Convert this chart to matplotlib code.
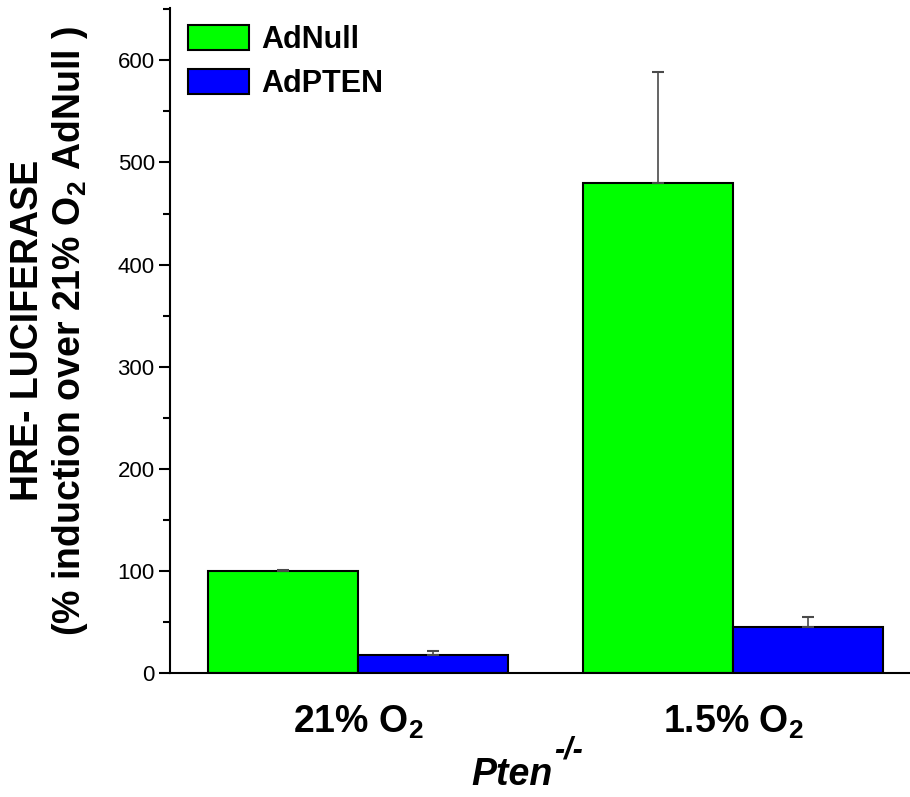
import matplotlib
matplotlib.use("Agg")
import matplotlib.pyplot as plt
import numpy as np

plt.rcParams['font.family'] = ['Liberation Sans', 'DejaVu Sans']
plt.rcParams['mathtext.fontset'] = 'custom'
plt.rcParams['mathtext.rm'] = 'Liberation Sans'
plt.rcParams['mathtext.bf'] = 'Liberation Sans:bold'
plt.rcParams['mathtext.it'] = 'Liberation Sans:italic'

conditions = ["21% O$_\\mathbf{2}$", "1.5% O$_\\mathbf{2}$"]
series = ["AdNull", "AdPTEN"]
adnull = [100, 480]
adnull_err = [0.5, 109]
adpten = [18, 45]
adpten_err = [4, 10]
colors = ["#00ff00", "#0000ff"]

fig = plt.figure(figsize=(9.10, 7.97), dpi=100)
ax = fig.add_axes([0.1868, 0.1556, 0.8132, 0.834])

x = np.arange(len(conditions))
w = 0.4
err_kw = dict(ecolor="#4a4a4a", elinewidth=1.2, capsize=4.5, capthick=1.5)
ax.bar(x - w / 2, adnull, w, color=colors[0], edgecolor="black", linewidth=1.5,
       yerr=[np.zeros(2), adnull_err], error_kw=err_kw, label=series[0], zorder=2)
ax.bar(x + w / 2, adpten, w, color=colors[1], edgecolor="black", linewidth=1.5,
       yerr=[np.zeros(2), adpten_err], error_kw=err_kw, label=series[1], zorder=2)

ax.set_ylim(0, 651)
ax.set_xlim(-0.501, 1.472)
ax.set_yticks(np.arange(0, 700, 100))
ax.set_yticks(np.arange(50, 651, 100), minor=True)
ax.tick_params(axis='y', which='major', direction='out', length=8, width=1.5, labelsize=16, pad=3)
ax.tick_params(axis='y', which='minor', direction='out', length=5, width=1.5)
ax.set_xticks(x)
ax.set_xticklabels(conditions, fontsize=27, fontweight='bold')
ax.tick_params(axis='x', length=0, pad=22)

for s in ['top', 'right']:
    ax.spines[s].set_visible(False)
ax.spines['left'].set_linewidth(1.5)
ax.spines['bottom'].set_linewidth(1.5)

ax.set_ylabel("HRE- LUCIFERASE\n(% induction over 21% O$_\\mathbf{2}$ AdNull )",
              fontsize=27, fontweight='bold', linespacing=1.15)
ax.yaxis.set_label_coords(-0.108, 0.515)

ax.set_xlabel("Pten", fontsize=27, fontweight='bold', style='italic')
ax.xaxis.set_label_coords(0.462, -0.126)
ax.annotate("-/-", xy=(1, 1), xycoords=ax.xaxis.label, xytext=(1, -6),
            textcoords='offset points', fontsize=22, fontweight='bold', style='italic',
            ha='left', va='bottom')

ax.legend(loc='upper left', frameon=False, prop=dict(weight='bold', size=22),
          handlelength=2.0, handleheight=0.85, handletextpad=0.4, labelspacing=0.45,
          borderaxespad=0.0, bbox_to_anchor=(0.008, 0.993))

fig.savefig("out.png", dpi=100)
